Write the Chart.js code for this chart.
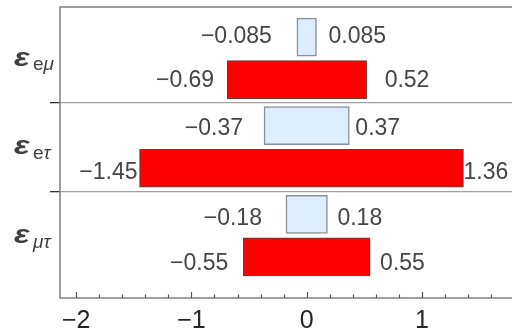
<!DOCTYPE html>
<html>
<head>
<meta charset="utf-8">
<script src="https://cdn.jsdelivr.net/npm/chart.js@4/dist/chart.umd.min.js"></script>
<style>
  html, body { margin: 0; padding: 0; background: #ffffff; }
  #wrap { width: 512px; height: 330px; }
</style>
</head>
<body>
<div id="wrap"><canvas id="c" width="512" height="330"></canvas></div>
<script>
// Coupling names: a symbol with a subscript
const categorySymbol = ['ε', 'ε', 'ε'];
const categorySubscript = ['eμ', 'eτ', 'μτ'];

// Narrow (light) intervals
const innerLow  = [-0.085, -0.37, -0.18];
const innerHigh = [ 0.085,  0.37,  0.18];

// Wide (red) intervals
const outerLow  = [-0.69, -1.45, -0.55];
const outerHigh = [ 0.52,  1.36,  0.55];

// Axis tick labels
const xTickValues = [-2, -1, 0, 1];

// Value-label spacing from the bar ends (px) and vertical nudge (px)
const innerGapLo = [25, 21, 24], innerGapHi = [12, 6, 10];
const outerGapLo = [13, 2, 15],  outerGapHi = [18, 0, 10];
const innerDy = [0, 3, 4], outerDy = [1, 4, 7];

const ROW_OFFSET = 0.24;          // half distance between the two bars of a row
const X_MIN = -2.14, X_MAX = 1.781;
const Y_MIN = -0.579, Y_MAX = 2.704;

const LABEL_FONT = "23px 'Liberation Sans', Arial, sans-serif";
const FRAME = '#7f7f7f';

function fmt(v) { return (v < 0 ? '\u2212' : '') + Math.abs(v); }

const innerData = innerLow.map((lo, i) => ({ y: i - ROW_OFFSET, x: [lo, innerHigh[i]] }));
const outerData = outerLow.map((lo, i) => ({ y: i + ROW_OFFSET, x: [lo, outerHigh[i]] }));

const valueLabels = {
  id: 'valueLabels',
  afterDatasetsDraw(chart) {
    const { ctx, scales: { x, y } } = chart;
    ctx.save();
    ctx.font = LABEL_FONT;
    ctx.fillStyle = '#454545';
    ctx.textBaseline = 'middle';
    const sets = [
      [innerLow, innerHigh, innerGapLo, innerGapHi, innerDy, -ROW_OFFSET],
      [outerLow, outerHigh, outerGapLo, outerGapHi, outerDy, ROW_OFFSET]
    ];
    sets.forEach(([lo, hi, gLo, gHi, dy, off]) => {
      lo.forEach((v, i) => {
        const yc = y.getPixelForValue(i + off) + dy[i];
        ctx.textAlign = 'right';
        ctx.fillText(fmt(v), x.getPixelForValue(v) - gLo[i], yc);
        ctx.textAlign = 'left';
        ctx.fillText(fmt(hi[i]), x.getPixelForValue(hi[i]) + gHi[i], yc);
      });
    });
    ctx.restore();
  }
};

const frame = {
  id: 'frame',
  afterDatasetsDraw(chart) {
    const { ctx, chartArea: a, scales: { x } } = chart;
    ctx.save();
    ctx.strokeStyle = FRAME;
    ctx.lineWidth = 1.5;
    ctx.beginPath();
    ctx.moveTo(a.right, a.top); ctx.lineTo(a.left, a.top);
    ctx.lineTo(a.left, a.bottom); ctx.lineTo(a.right, a.bottom);
    ctx.stroke();
    // inward ticks on the bottom axis: major every 1, minor every 0.2
    ctx.strokeStyle = '#555555';
    ctx.lineWidth = 1.2;
    const k0 = Math.ceil(X_MIN / 0.2), k1 = Math.floor(X_MAX / 0.2);
    ctx.beginPath();
    for (let k = k0; k <= k1; k++) {
      const px = Math.round(x.getPixelForValue(k * 0.2)) + 0.5;
      const len = (k % 5 === 0) ? 6 : 3.5;
      ctx.moveTo(px, a.bottom);
      ctx.lineTo(px, a.bottom - len);
    }
    ctx.stroke();
    ctx.restore();
  }
};

const categoryLabels = {
  id: 'categoryLabels',
  afterDraw(chart) {
    const { ctx, scales: { y } } = chart;
    ctx.save();
    ctx.fillStyle = '#3f3f3f';
    ctx.textBaseline = 'alphabetic';
    ctx.textAlign = 'left';
    categorySymbol.forEach((sym, i) => {
      const yc = y.getPixelForValue(i);
      ctx.save();
      ctx.translate(14, yc + 7.5);
      ctx.scale(1.3, 1);
      ctx.font = "italic bold 25px 'Liberation Sans', Arial, sans-serif";
      ctx.fillText(sym, 0, 0);
      ctx.restore();
      let cx = 33;
      for (const ch of categorySubscript[i]) {
        const greek = /[\u0370-\u03ff]/.test(ch);
        ctx.font = (greek ? 'italic ' : '') + "19px 'Liberation Sans', Arial, sans-serif";
        ctx.fillText(ch, cx, yc + 12);
        cx += ctx.measureText(ch).width;
      }
    });
    ctx.restore();
  }
};

new Chart(document.getElementById('c'), {
  type: 'bar',
  data: {
    datasets: [
      {
        label: 'inner',
        data: innerData,
        backgroundColor: '#ddedfd',
        borderColor: '#8c9096',
        borderWidth: 1.5,
        borderSkipped: false,
        barThickness: 38,
        grouped: false
      },
      {
        label: 'outer',
        data: outerData,
        backgroundColor: '#ff0000',
        borderColor: '#7a3434',
        borderWidth: 1.2,
        borderSkipped: false,
        barThickness: 38,
        grouped: false
      }
    ]
  },
  options: {
    indexAxis: 'y',
    responsive: false,
    animation: false,
    layout: { padding: { top: 7, right: 0, bottom: 0, left: 0 } },
    plugins: { legend: { display: false }, tooltip: { enabled: false } },
    scales: {
      x: {
        type: 'linear',
        min: X_MIN,
        max: X_MAX,
        offset: false,
        afterBuildTicks(scale) { scale.ticks = xTickValues.map(v => ({ value: v })); },
        afterFit(scale) { scale.height = 32; },
        grid: { display: false, drawTicks: false },
        border: { display: false },
        ticks: {
          padding: 8,
          color: '#262626',
          font: { family: "'Liberation Sans', Arial, sans-serif", size: 25 },
          callback: v => fmt(v)
        }
      },
      y: {
        type: 'linear',
        reverse: true,
        min: Y_MIN,
        max: Y_MAX,
        offset: false,
        afterBuildTicks(scale) { scale.ticks = [0.5, 1.5].map(v => ({ value: v })); },
        afterFit(scale) { scale.width = 60; },
        grid: { offset: false, color: '#a0a0a0', lineWidth: 1.3, tickLength: 10, tickColor: '#333333', tickWidth: 1.3 },
        border: { display: false },
        ticks: { display: false }
      }
    }
  },
  plugins: [frame, valueLabels, categoryLabels]
});
</script>
</body>
</html>
